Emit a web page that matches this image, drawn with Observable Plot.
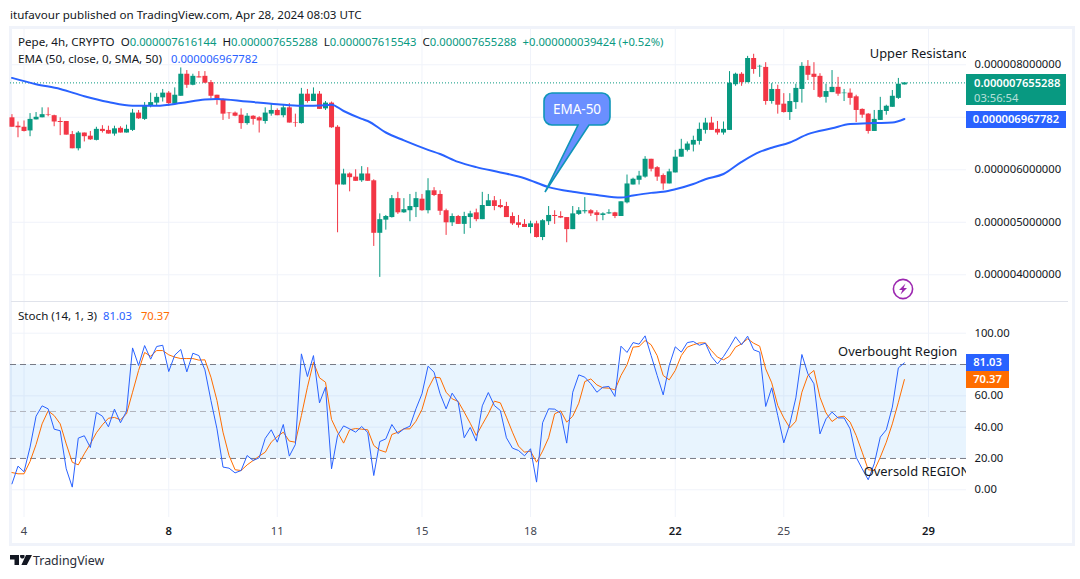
<!DOCTYPE html>
<html><head><meta charset="utf-8">
<script src="https://cdn.jsdelivr.net/npm/d3@7"></script>
<script src="https://cdn.jsdelivr.net/npm/@observablehq/plot@0.6"></script>
<style>
html,body{margin:0;padding:0;background:#fff;width:1080px;height:579px;overflow:hidden;font-family:"Noto Sans",sans-serif;color:#131722}
#frame{position:absolute;left:9px;top:26px;width:1060px;height:514px;border:3px solid #f0f3fa}
#sep{position:absolute;left:11px;top:301px;width:1057px;height:1px;background:#e0e3eb}
svg.pane{position:absolute;left:10px}
.t{position:absolute;white-space:pre;font-size:11.6px;line-height:14px}
.badge{position:absolute;color:#fff;font-weight:600;font-size:11.2px;line-height:16px;left:966px;text-align:center}
.g{color:#089981;font-size:11.25px}.b{color:#2962ff;font-size:11.25px}.o{color:#ff6d00;font-size:11.25px}
</style></head><body>
<div id="frame"></div>
<div id="sep"></div>
<div id="charts"></div>
<div class="t" style="left:10px;top:8px;">itufavour published on TradingView.com, Apr 28, 2024 08:03 UTC</div>
<div class="t" style="left:18px;top:35px;" id="ohlcLegend"></div>
<div class="t" style="left:18px;top:52px;" id="emaLegend"></div>
<div class="t" style="left:18px;top:309px;" id="stochLegend"></div>
<div class="badge" id="lastBadge" style="top:74px;width:92px;padding-left:8px;text-align:left;background:#089981;line-height:15px;padding-top:1px;height:30px"></div>
<div class="badge" id="emaBadge" style="top:111px;width:100px;height:17px;background:#2962ff"></div>
<div class="badge" id="kBadge" style="top:354px;width:43px;height:17px;background:#2962ff"></div>
<div class="badge" id="dBadge" style="top:371px;width:43px;height:17px;background:#ff6d00"></div>
<svg style="position:absolute;left:540px;top:90px" width="74" height="106">
  <path d="M12 3H62a8 8 0 0 1 8 8V27a8 8 0 0 1-8 8H49L5 102L38 35H12a8 8 0 0 1-8-8V11a8 8 0 0 1 8-8Z" fill="#6a8fff" stroke="#0f95b8" stroke-width="1.6"/>
  <text x="37" y="24" text-anchor="middle" fill="#fff" font-size="13.5" font-family="Noto Sans">EMA-50</text>
</svg>
<svg style="position:absolute;left:892px;top:278px" width="22" height="22">
  <circle cx="11" cy="11" r="9.6" fill="#fff" stroke="#9c27b0" stroke-width="1.6"/>
  <path d="M13.5 5.5L7 12h3.4L8.5 16.5L15 10h-3.4Z" fill="#9c27b0"/>
</svg>
<svg style="position:absolute;left:10px;top:555px" width="22" height="12">
  <path d="M0 0H9V10H4.5V4.5H0ZM10 1.2a2.3 2.3 0 1 1 0 .1ZM16 0H22L16.8 10H11.4Z" fill="#131722"/>
</svg>
<div class="t" style="left:33px;top:553px;font-size:12.4px;line-height:16px;color:#2a2e39">TradingView</div>
<script>
// Pepe / 4h candles, in units of 1e-6
const opens=[6.99,6.83,6.81,6.74,6.95,6.99,7.05,7.03,6.92,6.92,
6.67,6.40,6.70,6.64,6.56,6.77,6.75,6.68,6.79,6.70,
6.75,7.08,6.96,7.21,7.27,7.37,7.46,7.25,7.40,7.82,
7.61,7.77,7.78,7.66,7.42,7.34,7.08,7.08,7.04,6.88,
7.02,6.99,6.92,7.06,7.13,7.03,7.18,6.90,6.88,7.44,
7.30,7.44,7.16,7.27,6.81,5.71,5.92,5.86,5.79,5.92,
5.79,4.79,5.04,5.09,5.45,5.18,5.22,5.28,5.44,5.22,
5.60,5.53,5.22,4.99,5.11,4.96,5.09,5.18,5.05,5.30,
5.41,5.32,5.30,5.11,4.99,4.96,4.90,4.97,4.71,5.01,
5.13,5.11,5.09,4.86,5.15,5.20,5.22,5.18,5.13,5.16,
5.18,5.11,5.37,5.71,5.80,5.86,6.20,6.04,5.89,5.73,
5.94,6.24,6.37,6.47,6.54,6.75,6.89,6.77,6.70,6.75,
7.62,7.82,7.66,8.12,7.96,7.95,7.30,7.53,7.25,7.09,
7.28,7.53,7.97,7.82,7.78,7.38,7.47,7.57,7.45,7.46,
7.39,7.15,7.06,6.73,6.94,7.11,7.19,7.36,7.616];
const highs=[7.05,6.91,6.93,7.07,7.09,7.18,7.18,7.04,6.99,6.92,
6.73,6.73,6.70,6.73,6.81,6.84,6.83,6.83,6.82,6.85,
7.15,7.13,7.28,7.46,7.45,7.53,7.49,7.56,7.94,7.89,
7.82,7.87,7.87,7.70,7.42,7.35,7.09,7.10,7.16,7.07,
7.03,7.01,7.18,7.26,7.16,7.24,7.26,7.06,7.55,7.53,
7.56,7.49,7.30,7.29,6.84,6.01,5.94,6.00,6.06,6.04,
5.81,5.16,5.13,5.51,5.57,5.45,5.53,5.57,5.53,5.83,
5.66,5.60,5.25,5.16,5.13,5.19,5.21,5.25,5.57,5.53,
5.49,5.43,5.38,5.18,5.13,5.05,5.02,5.02,5.05,5.30,
5.22,5.20,5.09,5.30,5.28,5.47,5.24,5.22,5.18,5.24,
5.19,5.39,5.90,5.84,5.97,6.25,6.20,6.06,5.92,6.01,
6.37,6.58,6.53,6.64,6.89,6.98,7.00,6.92,6.91,7.87,
7.84,7.85,8.16,8.20,7.99,8.04,7.64,7.61,7.45,7.45,
7.63,8.04,8.08,8.04,7.83,7.63,7.89,7.76,7.53,7.54,
7.42,7.16,7.07,7.13,7.38,7.23,7.51,7.74,7.655];
const lows=[6.81,6.61,6.72,6.63,6.95,6.99,7.01,6.82,6.65,6.66,
6.40,6.36,6.53,6.56,6.55,6.70,6.68,6.64,6.70,6.70,
6.73,6.96,6.94,7.18,7.22,7.29,7.21,7.23,7.40,7.55,
7.60,7.75,7.64,7.35,7.23,6.94,6.96,7.01,6.77,6.85,
6.85,6.70,6.87,7.02,7.03,6.99,6.89,6.81,6.87,7.27,
7.30,7.15,7.13,6.79,4.80,5.71,5.58,5.78,5.76,5.78,
4.54,3.95,4.85,5.08,5.15,5.17,5.01,5.09,5.21,5.16,
5.49,5.13,4.75,4.92,4.96,4.77,4.88,5.01,5.05,5.30,
5.22,5.26,5.09,4.94,4.89,4.90,4.78,4.70,4.65,4.94,
4.96,5.07,4.61,4.86,5.13,5.16,5.11,5.01,5.03,5.15,
5.07,5.11,5.35,5.71,5.71,5.84,5.96,5.78,5.61,5.73,
5.94,6.24,6.34,6.34,6.47,6.68,6.75,6.66,6.66,6.75,
7.59,7.59,7.66,7.82,7.76,7.23,7.25,7.06,7.08,6.94,
7.15,7.27,7.70,7.51,7.36,7.27,7.47,7.40,7.30,7.23,
6.90,6.98,6.68,6.73,6.94,7.04,7.19,7.34,7.616];
const closes=[6.81,6.80,6.73,6.96,7.00,7.05,7.04,6.91,6.90,6.66,
6.40,6.70,6.63,6.57,6.77,6.73,6.68,6.78,6.70,6.77,
7.08,6.97,7.22,7.28,7.38,7.46,7.26,7.42,7.82,7.61,
7.78,7.75,7.65,7.40,7.32,7.06,7.07,7.02,6.88,7.02,
6.96,6.93,7.08,7.13,7.03,7.18,6.89,6.89,7.44,7.30,
7.44,7.15,7.27,6.80,5.71,5.92,5.85,5.78,5.92,5.78,
4.79,5.05,5.11,5.45,5.18,5.24,5.30,5.45,5.22,5.60,
5.51,5.21,4.99,5.11,4.96,5.11,5.16,5.05,5.32,5.41,
5.30,5.28,5.09,4.97,4.94,4.90,4.97,4.71,5.03,5.13,
5.11,5.08,4.86,5.16,5.22,5.22,5.16,5.13,5.16,5.18,
5.11,5.39,5.73,5.82,5.88,6.20,6.01,5.86,5.73,5.96,
6.24,6.39,6.49,6.56,6.77,6.89,6.75,6.70,6.77,7.65,
7.82,7.66,8.12,7.91,7.97,7.30,7.53,7.23,7.09,7.30,
7.55,7.97,7.80,7.76,7.38,7.49,7.57,7.44,7.46,7.36,
7.13,7.04,6.73,6.96,7.13,7.21,7.40,7.63,7.655];
// EMA-50, read at these candle numbers (1-based)
const emaCandles=[1,5,9,13,17,21,25,29,33,35,40,45,49,53,54,56,59,60,63,66,70,72,75,78,82,86,90,94,98,102,104,107,109,111,114,116,119,122,125,127,130,133,137,140,144,147,149];
const emaValues=[7.75,7.63,7.54,7.40,7.29,7.22,7.22,7.27,7.34,7.35,7.30,7.25,7.22,7.23,7.24,7.12,6.97,6.93,6.71,6.56,6.38,6.30,6.15,6.05,5.95,5.84,5.67,5.58,5.52,5.47,5.51,5.56,5.58,5.63,5.73,5.82,5.92,6.15,6.34,6.42,6.52,6.68,6.79,6.87,6.89,6.90,6.968];
// Stochastic
const stochK=[3.8,15.1,11.5,27.2,47.0,53.6,51.7,38.7,37.7,13.4,1.7,33.0,34.5,27.0,49.4,47.0,40.2,51.5,42.8,50.2,
90.6,79.4,92.1,83.4,91.5,92.3,75.5,86.0,89.6,75.3,87.2,85.7,76.6,57.0,38.9,14.5,13.8,10.8,12.3,21.9,
18.7,20.4,32.8,38.3,30.4,41.7,21.5,28.9,86.8,72.3,85.7,55.5,65.5,13.4,34.7,40.8,38.9,36.8,40.4,36.6,
9.1,30.8,32.5,41.7,35.9,38.9,40.6,51.7,61.3,78.9,75.1,61.3,51.7,61.7,55.9,33.2,39.8,31.1,53.6,62.1,
53.8,50.6,33.2,26.6,25.1,21.7,26.2,4.9,42.8,51.7,51.5,48.9,29.8,62.3,73.4,71.9,67.7,62.3,65.5,66.0,
59.6,91.7,87.7,94.0,93.0,98.3,85.7,73.0,60.6,79.4,91.3,87.9,94.0,94.7,92.3,93.6,85.1,80.4,85.1,91.1,
97.7,92.6,98.1,89.4,87.9,53.2,65.1,47.4,30.0,42.1,58.7,86.4,74.0,67.7,35.7,45.3,49.6,45.9,45.9,38.9,
20.8,13.4,6.4,16.6,33.6,38.3,52.8,77.9,81.03];
const stochD=[11.0,10.2,10.2,18.1,28.9,42.1,50.4,47.4,42.1,29.3,17.6,15.9,23.0,29.3,36.4,41.5,45.7,46.2,44.7,48.5,
62.3,76.2,87.7,85.3,88.9,88.9,86.2,84.7,83.8,83.8,83.8,82.8,83.0,71.9,57.0,36.8,21.9,12.8,12.3,15.9,
18.7,21.5,24.0,30.4,34.0,36.8,31.1,30.4,47.4,65.5,81.5,71.5,68.7,44.9,36.8,29.8,38.3,39.1,38.7,38.3,
28.3,25.3,24.0,35.3,36.8,38.9,38.9,43.8,51.3,64.5,71.9,71.5,62.3,58.1,56.4,49.6,42.5,34.7,41.7,48.5,
56.6,55.5,46.4,36.8,27.9,24.0,24.7,17.6,24.7,33.2,48.5,50.4,43.2,47.0,55.3,69.1,70.8,67.0,65.1,64.9,
63.8,73.0,79.8,91.1,91.5,95.3,92.6,85.7,73.0,70.2,76.2,85.7,91.1,92.6,93.8,93.8,88.9,84.7,83.0,85.3,
91.1,93.2,96.4,93.6,91.7,77.2,68.3,53.8,45.9,39.6,43.8,62.3,73.0,76.2,59.1,49.1,43.6,46.4,47.0,43.2,
34.7,24.0,12.8,12.3,20.8,30.4,42.1,55.9,70.37];
// axis labels (7 and 80 sit under the value badges in the reference, so no label is printed there)
const priceGrid=[4,5,6,7,8];
const priceLabels=[4,5,6,8];
const stochLabels=[100,60,40,20,0];
const stochGrid=[100,60,40,0];
const lightDays=[4,11,15,18,25];
const darkDays=[8,22,29];
// last values as printed
const lastPrice=7.655288, lastEma=6.967782, lastOpen=7.616144, lastLow=7.615543, lastChange=0.039424;
const lastK=81.03, lastD=70.37;
// annotations
const notesPrice=[{t:Date.UTC(2024,3,27,9),v:8.2,label:"Upper Resistance"}];
const notesStoch=[{t:Date.UTC(2024,3,26,12),v:88,label:"Overbought Region"},{t:Date.UTC(2024,3,27,5),v:11.3,label:"Oversold REGION"}];

const H4=4*3600e3, START=Date.UTC(2024,3,3,16);
const when=n=>new Date(START+(n-1)*H4);
const day=d=>new Date(Date.UTC(2024,3,d));
const candles=opens.map((o,i)=>({t:when(i+1),o,h:highs[i],l:lows[i],c:closes[i],col:closes[i]>=o?"#089981":"#f23645"}));
const ema=emaCandles.map((n,i)=>({t:when(n),v:emaValues[i]}));
const kLine=stochK.map((v,i)=>({t:when(i+1),v}));
const dLine=stochD.map((v,i)=>({t:when(i+1),v}));
const allDays=lightDays.concat(darkDays);
const xDomain=[new Date(Date.UTC(2024,3,3,15,2)),new Date(Date.UTC(2024,3,30,1,12))];
const fmt=v=>(v/1e6).toFixed(12);
const FONT='"Noto Sans",sans-serif', INK="#131722", GRID="#f0f3fa";
const base={width:1060,marginLeft:0,marginRight:104,marginTop:0,style:{background:"transparent",fontFamily:FONT,fontSize:"11.25px",color:INK,overflow:"visible"}};
const note=notes=>Plot.text(notes,{x:d=>new Date(d.t),y:"v",text:"label",textAnchor:"start",fontSize:12.9,fill:INK,clip:"frame"});

const price=Plot.plot({...base,height:272,marginBottom:0,
  x:{type:"utc",domain:xDomain,axis:null},
  y:{domain:[3.491,8.672],axis:null},
  marks:[
    Plot.ruleX(allDays.map(day),{stroke:GRID,strokeWidth:1}),
    Plot.ruleY(priceGrid,{stroke:GRID,strokeWidth:1}),
    Plot.ruleY([lastPrice],{stroke:"#089981",strokeWidth:1,strokeDasharray:"1 2"}),
    Plot.ruleX(candles,{x:"t",y1:"l",y2:"h",stroke:"col",strokeWidth:1}),
    Plot.ruleX(candles,{x:"t",y1:"o",y2:"c",stroke:"col",strokeWidth:5}),
    Plot.line(ema,{x:"t",y:"v",stroke:"#2962ff",strokeWidth:2,curve:"monotone-x"}),
    Plot.axisY({anchor:"right",ticks:priceLabels,tickFormat:fmt,tickSize:0,tickPadding:8,label:null,fill:INK}),
    note(notesPrice)
  ]});
price.setAttribute("class","pane");price.style.top="29px";

const stoch=Plot.plot({...base,height:242,marginBottom:27,
  x:{type:"utc",domain:xDomain,axis:null},
  y:{domain:[-17.7,119.6],axis:null},
  marks:[
    Plot.ruleX(allDays.map(day),{stroke:GRID,strokeWidth:1}),
    Plot.ruleY(stochGrid,{stroke:GRID,strokeWidth:1}),
    Plot.rectY([0],{x1:xDomain[0],x2:xDomain[1],y1:20,y2:80,fill:"#2196f3",fillOpacity:0.1}),
    Plot.ruleY([80,20],{stroke:"#787b86",strokeWidth:1,strokeDasharray:"6 4"}),
    Plot.ruleY([50],{stroke:"#b2b5be",strokeWidth:1,strokeDasharray:"6 4"}),
    Plot.line(dLine,{x:"t",y:"v",stroke:"#ff6d00",strokeWidth:1}),
    Plot.line(kLine,{x:"t",y:"v",stroke:"#2962ff",strokeWidth:1}),
    Plot.axisY({anchor:"right",ticks:stochLabels,tickFormat:v=>v.toFixed(2),tickSize:0,tickPadding:8,label:null,fill:INK}),
    Plot.axisX({anchor:"bottom",ticks:lightDays.map(day),tickFormat:d=>d.getUTCDate(),tickSize:0,tickPadding:9,label:null,fill:"#434651"}),
    Plot.axisX({anchor:"bottom",ticks:darkDays.map(day),tickFormat:d=>d.getUTCDate(),tickSize:0,tickPadding:9,label:null,fill:INK,fontWeight:600}),
    note(notesStoch)
  ]});
stoch.setAttribute("class","pane");stoch.style.top="302px";
document.getElementById("charts").append(price,stoch);

const pct=(lastChange/lastOpen*100).toFixed(2);
document.getElementById("ohlcLegend").innerHTML=
 `Pepe, 4h, CRYPTO  O<span class="g">${fmt(lastOpen)}</span>  H<span class="g">${fmt(lastPrice)}</span>  L<span class="g">${fmt(lastLow)}</span>  C<span class="g">${fmt(lastPrice)}</span>  <span class="g">+${fmt(lastChange)} (+${pct}%)</span>`;
document.getElementById("emaLegend").innerHTML=`EMA (50, close, 0, SMA, 50)   <span class="b">${fmt(lastEma)}</span>`;
document.getElementById("stochLegend").innerHTML=`Stoch (14, 1, 3)  <span class="b">${lastK.toFixed(2)}</span>   <span class="o">${lastD.toFixed(2)}</span>`;
document.getElementById("lastBadge").innerHTML=`${fmt(lastPrice)}<br><span style="font-weight:400;opacity:.7">03:56:54</span>`;
document.getElementById("emaBadge").textContent=fmt(lastEma);
document.getElementById("kBadge").textContent=lastK.toFixed(2);
document.getElementById("dBadge").textContent=lastD.toFixed(2);
</script>
</body></html>
